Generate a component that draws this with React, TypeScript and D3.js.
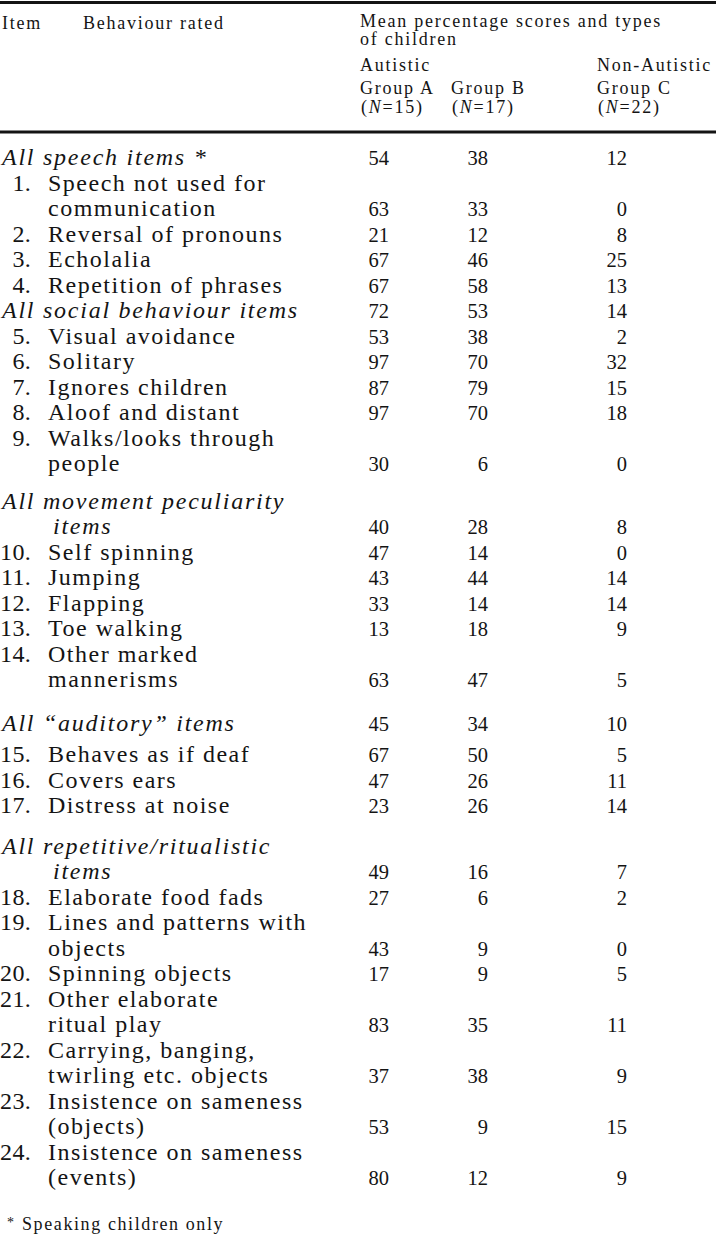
import React from "react";
import * as d3 from "d3";

// ---------- DATA ----------
const rowKinds = [
  "group", "item", "item", "item", "item",
  "group", "item", "item", "item", "item", "item",
  "group", "item", "item", "item", "item", "item",
  "group", "item", "item", "item",
  "group", "item", "item", "item", "item", "item", "item", "item",
];

const itemNumbers = [
  "", "1.", "2.", "3.", "4.",
  "", "5.", "6.", "7.", "8.", "9.",
  "", "10.", "11.", "12.", "13.", "14.",
  "", "15.", "16.", "17.",
  "", "18.", "19.", "20.", "21.", "22.", "23.", "24.",
];

const rowLabels = [
  ["All speech items *"],
  ["Speech not used for", "communication"],
  ["Reversal of pronouns"],
  ["Echolalia"],
  ["Repetition of phrases"],
  ["All social behaviour items"],
  ["Visual avoidance"],
  ["Solitary"],
  ["Ignores children"],
  ["Aloof and distant"],
  ["Walks/looks through", "people"],
  ["All movement peculiarity", "items"],
  ["Self spinning"],
  ["Jumping"],
  ["Flapping"],
  ["Toe walking"],
  ["Other marked", "mannerisms"],
  ["All \u201Cauditory\u201D items"],
  ["Behaves as if deaf"],
  ["Covers ears"],
  ["Distress at noise"],
  ["All repetitive/ritualistic", "items"],
  ["Elaborate food fads"],
  ["Lines and patterns with", "objects"],
  ["Spinning objects"],
  ["Other elaborate", "ritual play"],
  ["Carrying, banging,", "twirling etc. objects"],
  ["Insistence on sameness", "(objects)"],
  ["Insistence on sameness", "(events)"],
];

const groupA = [54, 63, 21, 67, 67, 72, 53, 97, 87, 97, 30, 40, 47, 43, 33, 13, 63, 45, 67, 47, 23, 49, 27, 43, 17, 83, 37, 53, 80];
const groupB = [38, 33, 12, 46, 58, 53, 38, 70, 79, 70, 6, 28, 14, 44, 14, 18, 47, 34, 50, 26, 26, 16, 6, 9, 9, 35, 38, 9, 12];
const groupC = [12, 0, 8, 25, 13, 14, 2, 32, 15, 18, 0, 8, 0, 14, 14, 9, 5, 10, 5, 11, 14, 7, 2, 0, 5, 11, 9, 15, 9];

const columnKeys = ["A", "B", "C"];
const columnNames = ["Group A", "Group B", "Group C"];
const columnNs = ["15", "17", "22"];
const headerItem = "Item";
const headerBehaviour = "Behaviour rated";
const headerMean = ["Mean percentage scores and types", "of children"];
const headerTypes = ["Autistic", "Non-Autistic"];
const footnote = "Speaking children only";

// ---------- LAYOUT / STYLE ----------
const W = 716;
const H = 1240;
const SERIF = '"Liberation Serif", "Times New Roman", serif';
const INK = "#141414";
const FIRST_CENTER = 159;
const STEP = 25.5;
const EXTRA_GAP: Record<number, number> = { 11: 12, 17: 18, 18: 6, 21: 15 };
const BASE_OFF = 6;
const BODY_SIZE = 24;

export default function App() {
  const series = [groupA, groupB, groupC];
  const colRight = d3.scaleOrdinal<string, number>().domain(columnKeys).range([389, 488, 627]);
  const colLeft = d3.scaleOrdinal<string, number>().domain(columnKeys).range([360, 451, 597]);

  const lineCounts = rowLabels.map((l) => l.length);
  const gaps = rowLabels.map((_, i) => EXTRA_GAP[i] || 0);
  const startLine = [0, ...Array.from(d3.cumsum(lineCounts))].slice(0, rowLabels.length);
  const gapSum = Array.from(d3.cumsum(gaps));
  const y = d3.scaleLinear().domain([0, 1]).range([FIRST_CENTER, FIRST_CENTER + STEP]);
  const rowY = (i: number, line: number) => y(startLine[i] + line) + gapSum[i];
  const lastIdx = rowLabels.length - 1;
  const footY = rowY(lastIdx, rowLabels[lastIdx].length - 1) + 45;

  const hdr = { fontSize: 18, letterSpacing: 1.75 } as const;

  return (
    <svg
      width={W}
      height={H}
      viewBox={`0 0 ${W} ${H}`}
      style={{ position: "absolute", left: 0, top: 0, background: "#fff" }}
      fontFamily={SERIF}
      fill={INK}
    >
      <rect x={0} y={0} width={W} height={H} fill="#fff" />
      {/* rules */}
      <line x1={0} x2={W} y1={2.5} y2={2.5} stroke={INK} strokeWidth={2.8} />
      <line x1={0} x2={W} y1={132} y2={132} stroke={INK} strokeWidth={2.8} />

      {/* header */}
      <text x={2} y={29} {...hdr}>{headerItem}</text>
      <text x={83} y={29} {...hdr}>{headerBehaviour}</text>
      <text x={360} y={27} {...hdr}>{headerMean[0]}</text>
      <text x={360} y={45} {...hdr}>{headerMean[1]}</text>
      <text x={colLeft("A")} y={71} {...hdr}>{headerTypes[0]}</text>
      <text x={colLeft("C")} y={71} {...hdr}>{headerTypes[1]}</text>
      {columnKeys.map((k, j) => (
        <g key={k}>
          <text x={colLeft(k)} y={94} {...hdr}>{columnNames[j]}</text>
          <text x={colLeft(k) + 1} y={113} {...hdr}>
            (<tspan fontStyle="italic">N</tspan>={columnNs[j]})
          </text>
        </g>
      ))}

      {/* body */}
      {rowLabels.map((lines, i) => {
        const isGroup = rowKinds[i] === "group";
        const lastLine = lines.length - 1;
        return (
          <g key={i}>
            {!isGroup && (
              <text x={31} y={rowY(i, 0) + BASE_OFF} fontSize={BODY_SIZE} letterSpacing={0.3} textAnchor="end">
                {itemNumbers[i]}
              </text>
            )}
            {lines.map((t, li) => (
              <text
                key={li}
                x={isGroup ? (li === 0 ? 2 : 53) : 48}
                y={rowY(i, li) + BASE_OFF}
                fontSize={BODY_SIZE}
                fontStyle={isGroup ? "italic" : "normal"}
                letterSpacing={isGroup ? 1.75 : 1.5}
              >
                {t}
              </text>
            ))}
            {columnKeys.map((k, j) => (
              <text
                key={k}
                x={colRight(k)}
                y={rowY(i, lastLine) + BASE_OFF}
                fontSize={20.5}
                textAnchor="end"
              >
                {series[j][i]}
              </text>
            ))}
          </g>
        );
      })}

      {/* footnote */}
      <text x={7} y={footY + 3} fontSize={14}>*</text>
      <text x={22} y={footY + 6} fontSize={18} letterSpacing={1.6}>{footnote}</text>
    </svg>
  );
}
